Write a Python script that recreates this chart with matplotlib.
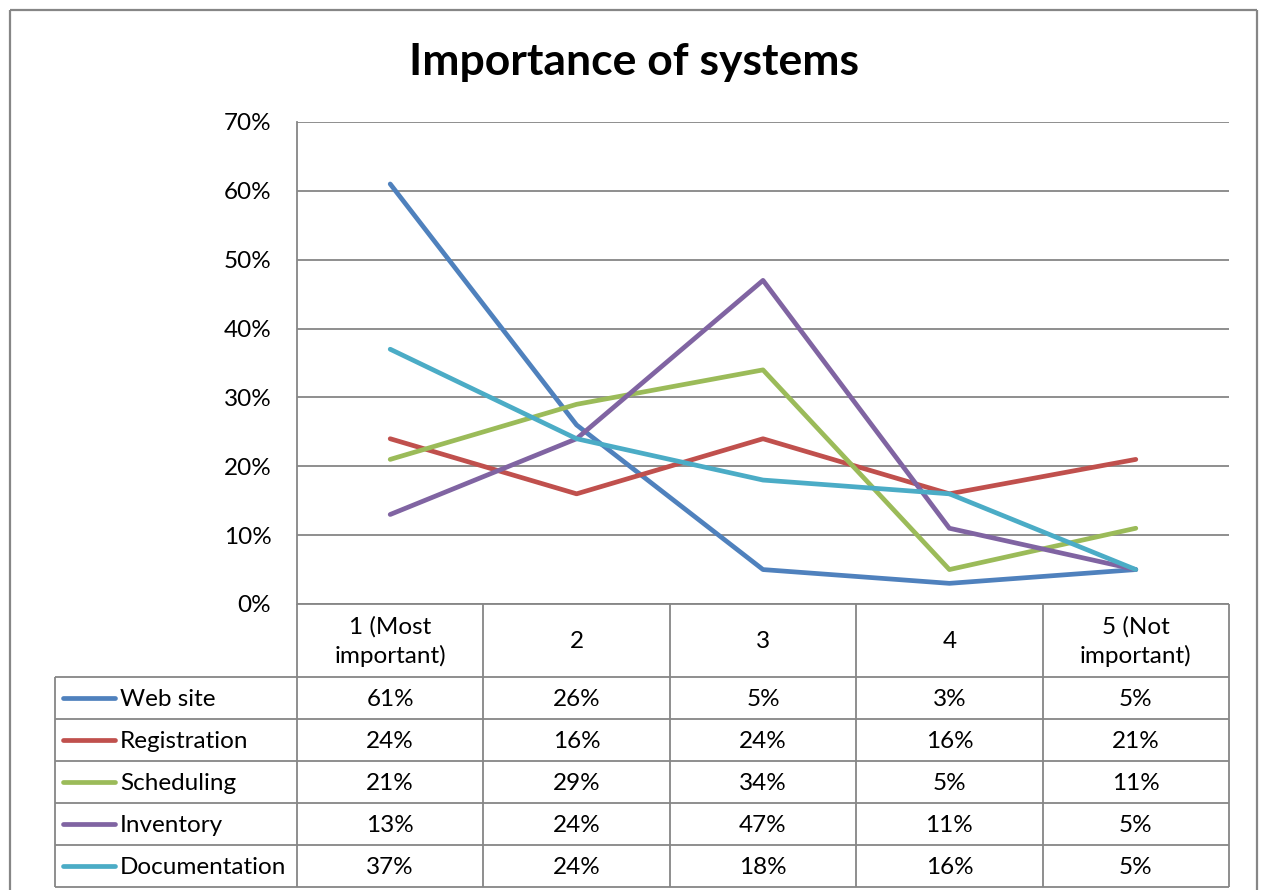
import numpy as np
import matplotlib.pyplot as plt
from matplotlib.lines import Line2D

# survey answers: share of respondents per importance rating
categories = ["1 (Most\nimportant)", "2", "3", "4", "5 (Not\nimportant)"]
series_names = ["Web site", "Registration", "Scheduling", "Inventory", "Documentation"]
web_site = [61, 26, 5, 3, 5]
registration = [24, 16, 24, 16, 21]
scheduling = [21, 29, 34, 5, 11]
inventory = [13, 24, 47, 11, 5]
documentation = [37, 24, 18, 16, 5]
yticks = [0, 10, 20, 30, 40, 50, 60, 70]

series = [web_site, registration, scheduling, inventory, documentation]
colors = ["#4F81BD", "#C0504D", "#9BBB59", "#8064A2", "#4BACC6"]

plt.rcParams['font.family'] = ['Lato', 'DejaVu Sans']
W, H = 1262, 890
fig = plt.figure(figsize=(W / 100, H / 100), dpi=100)
fs = 17.5

# layout in pixels
px_left, px_right, px_top, px_bottom = 297, 1229, 122, 604
grid_c = "#868686"

ax = fig.add_axes([px_left / W, 1 - px_bottom / H,
                   (px_right - px_left) / W, (px_bottom - px_top) / H])
x = np.arange(len(categories))
for vals, c in zip(series, colors):
    ax.plot(x, vals, color=c, lw=3.4, solid_capstyle='round', solid_joinstyle='round', zorder=3)
ax.set_xlim(-0.5, len(categories) - 0.5)
ax.set_ylim(0, 70)
ax.set_yticks(yticks)
ax.set_yticklabels([f"{v}%" for v in yticks], fontsize=fs)
ax.set_xticks([])
ax.yaxis.grid(True, color=grid_c, lw=1.3)
ax.set_axisbelow(True)
for s in ["top", "right", "bottom"]:
    ax.spines[s].set_visible(False)
ax.spines["left"].set_color(grid_c)
ax.spines["left"].set_linewidth(1.3)
ax.tick_params(axis='y', length=0, pad=18.5)

# overlay axes in pixel units for the frame, title and data table
ov = fig.add_axes([0, 0, 1, 1])
ov.set_xlim(0, W)
ov.set_ylim(H, 0)
ov.axis('off')
ov.patch.set_alpha(0)

def seg(x0, y0, x1, y1, lw=1.3, c=grid_c):
    ov.add_line(Line2D([x0, x1], [y0, y1], color=c, lw=lw, solid_capstyle='butt'))

# outer chart frame
seg(10, 10, 1257, 10, lw=1.6)
seg(10, 10, 10, H, lw=1.6)
seg(1257, 10, 1257, H, lw=1.6)

ov.text(634, 62, "Importance of systems", fontsize=32, fontweight='bold',
        ha='center', va='center')

col_w = (px_right - px_left) / len(categories)
head_bot = 677
row_h = 42
legend_left = 55
n_rows = len(series_names)
table_bot = head_bot + row_h * n_rows

# header cells
for i in range(len(categories) + 1):
    xx = px_left + col_w * i
    seg(xx, px_bottom, xx, table_bot)
seg(px_left, px_bottom, px_right, px_bottom)
for i, cat in enumerate(categories):
    ov.text(px_left + col_w * (i + 0.5), (px_bottom + head_bot) / 2 + 1, cat,
            fontsize=fs, ha='center', va='center', linespacing=1.4)

# body rows
seg(legend_left, head_bot, legend_left, table_bot)
for r in range(n_rows + 1):
    yy = head_bot + row_h * r
    seg(legend_left, yy, px_right, yy)
for r, (name, vals, c) in enumerate(zip(series_names, series, colors)):
    yc = head_bot + row_h * (r + 0.5)
    ov.add_line(Line2D([63, 115], [yc, yc], color=c, lw=3.4, solid_capstyle='round'))
    ov.text(120, yc + 2, name, fontsize=fs, ha='left', va='center')
    for i, v in enumerate(vals):
        ov.text(px_left + col_w * (i + 0.5), yc + 2, f"{v}%", fontsize=fs,
                ha='center', va='center')

fig.savefig("out.png", dpi=100, facecolor='white')
